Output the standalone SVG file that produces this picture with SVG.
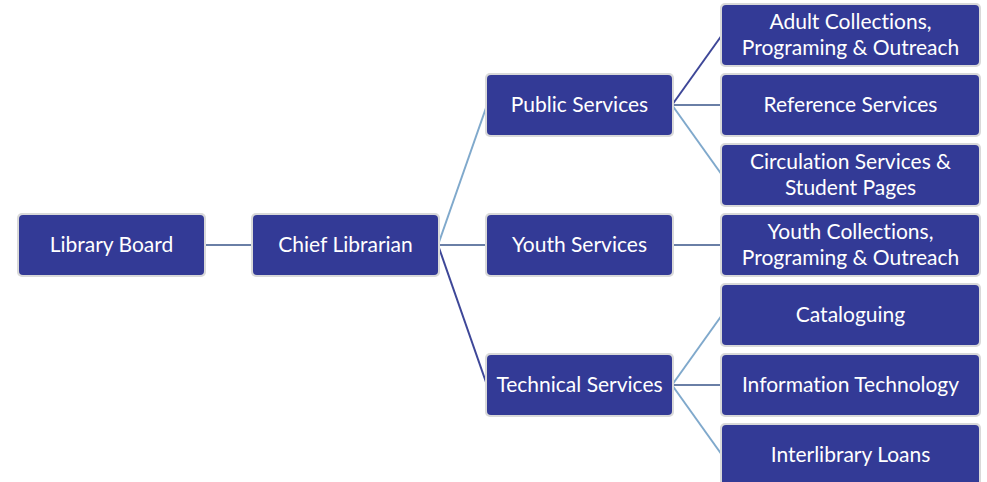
<svg xmlns="http://www.w3.org/2000/svg" width="987" height="482" viewBox="0 0 987 482">
<style>
.bg{fill:#d9d9d9}
.box{fill:#333a96}
.t{font-family:Lato,"Open Sans","Liberation Sans",sans-serif;font-size:21px;fill:#ffffff;text-anchor:middle;font-variant-ligatures:none}
.c{fill:none;stroke-width:2}
.dk{stroke:#3e4798}
.lt{stroke:#80a9cc}
.md{stroke:#6a7fa6}
</style>
<rect width="987" height="482" fill="#ffffff"/>
<g id="connectors">
<line class="c md" x1="204" y1="245" x2="253" y2="245"/>
<line class="c lt" x1="438" y1="245" x2="487" y2="105"/>
<line class="c md" x1="438" y1="245" x2="487" y2="245"/>
<line class="c dk" x1="438" y1="245" x2="487" y2="385"/>
<line class="c dk" x1="672" y1="105" x2="722" y2="35"/>
<line class="c md" x1="672" y1="105" x2="722" y2="105"/>
<line class="c lt" x1="672" y1="105" x2="722" y2="175"/>
<line class="c md" x1="672" y1="245" x2="722" y2="245"/>
<line class="c lt" x1="672" y1="385" x2="722" y2="315"/>
<line class="c md" x1="672" y1="385" x2="722" y2="385"/>
<line class="c lt" x1="672" y1="385" x2="722" y2="455"/>
</g>
<g id="library-board">
<rect class="bg" x="17" y="213" width="189" height="64" rx="5"/>
<rect class="box" x="19" y="215" width="185" height="60" rx="4"/>
<text class="t" x="111.5" y="252">Library Board</text>
</g>
<g id="chief-librarian">
<rect class="bg" x="251" y="213" width="189" height="64" rx="5"/>
<rect class="box" x="253" y="215" width="185" height="60" rx="4"/>
<text class="t" x="345.5" y="252">Chief Librarian</text>
</g>
<g id="public-services">
<rect class="bg" x="485" y="73" width="189" height="64" rx="5"/>
<rect class="box" x="487" y="75" width="185" height="60" rx="4"/>
<text class="t" x="579.5" y="112">Public Services</text>
</g>
<g id="youth-services">
<rect class="bg" x="485" y="213" width="189" height="64" rx="5"/>
<rect class="box" x="487" y="215" width="185" height="60" rx="4"/>
<text class="t" x="579.5" y="252">Youth Services</text>
</g>
<g id="technical-services">
<rect class="bg" x="485" y="353" width="189" height="64" rx="5"/>
<rect class="box" x="487" y="355" width="185" height="60" rx="4"/>
<text class="t" x="579.5" y="392">Technical Services</text>
</g>
<g id="adult-collections">
<rect class="bg" x="720" y="3" width="261" height="64" rx="5"/>
<rect class="box" x="722" y="5" width="257" height="60" rx="4"/>
<text class="t" x="850.5" y="29">Adult Collections,</text>
<text class="t" x="850.5" y="55">Programing &amp; Outreach</text>
</g>
<g id="reference-services">
<rect class="bg" x="720" y="73" width="261" height="64" rx="5"/>
<rect class="box" x="722" y="75" width="257" height="60" rx="4"/>
<text class="t" x="850.5" y="112">Reference Services</text>
</g>
<g id="circulation-services">
<rect class="bg" x="720" y="143" width="261" height="64" rx="5"/>
<rect class="box" x="722" y="145" width="257" height="60" rx="4"/>
<text class="t" x="850.5" y="169">Circulation Services &amp;</text>
<text class="t" x="850.5" y="195">Student Pages</text>
</g>
<g id="youth-collections">
<rect class="bg" x="720" y="213" width="261" height="64" rx="5"/>
<rect class="box" x="722" y="215" width="257" height="60" rx="4"/>
<text class="t" x="850.5" y="239">Youth Collections,</text>
<text class="t" x="850.5" y="265">Programing &amp; Outreach</text>
</g>
<g id="cataloguing">
<rect class="bg" x="720" y="283" width="261" height="64" rx="5"/>
<rect class="box" x="722" y="285" width="257" height="60" rx="4"/>
<text class="t" x="850.5" y="322">Cataloguing</text>
</g>
<g id="information-technology">
<rect class="bg" x="720" y="353" width="261" height="64" rx="5"/>
<rect class="box" x="722" y="355" width="257" height="60" rx="4"/>
<text class="t" x="850.5" y="392">Information Technology</text>
</g>
<g id="interlibrary-loans">
<rect class="bg" x="720" y="423" width="261" height="64" rx="5"/>
<rect class="box" x="722" y="425" width="257" height="60" rx="4"/>
<text class="t" x="850.5" y="462">Interlibrary Loans</text>
</g>
</svg>
